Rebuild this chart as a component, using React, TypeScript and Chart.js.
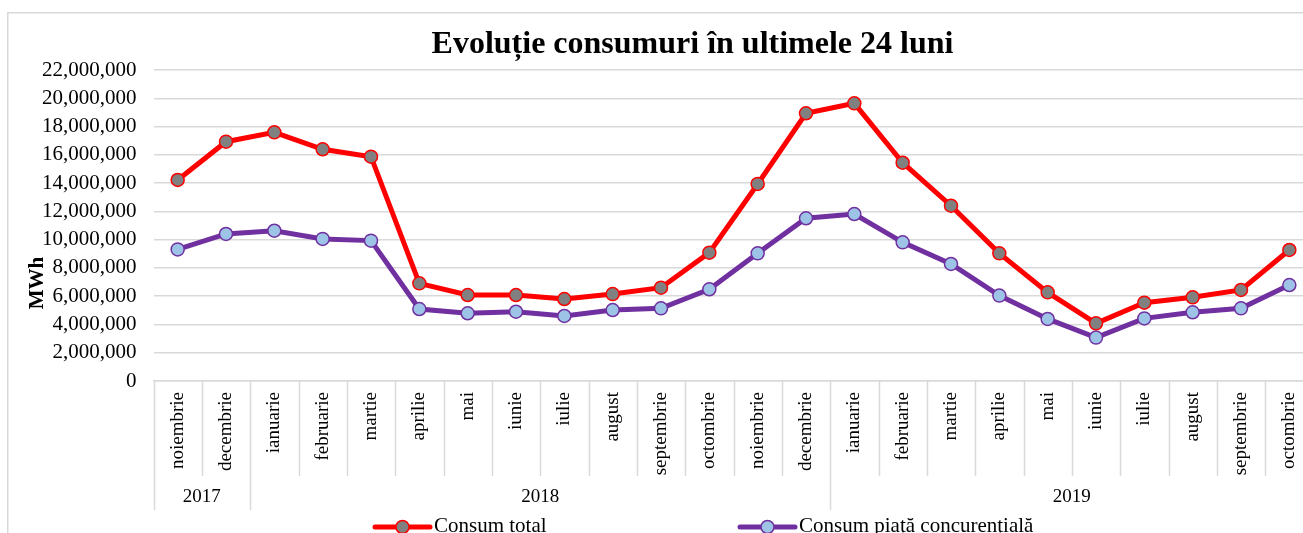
import { useEffect, useRef } from 'react';
import { Chart, registerables } from 'chart.js';

Chart.register(...registerables);

const months = [
  'noiembrie', 'decembrie',
  'ianuarie', 'februarie', 'martie', 'aprilie', 'mai', 'iunie', 'iulie', 'august', 'septembrie', 'octombrie', 'noiembrie', 'decembrie',
  'ianuarie', 'februarie', 'martie', 'aprilie', 'mai', 'iunie', 'iulie', 'august', 'septembrie', 'octombrie',
];
const yearLabels = ['2017', '2018', '2019'];
const yearSpans = [2, 12, 10];

const consumTotal = [
  14220000, 16930000, 17590000, 16390000, 15870000, 6910000, 6080000, 6080000, 5800000, 6150000, 6600000, 9080000,
  13940000, 18940000, 19640000, 15440000, 12400000, 9030000, 6270000, 4080000, 5540000, 5920000, 6440000, 9270000,
];
const consumPiata = [
  9310000, 10400000, 10630000, 10050000, 9930000, 5090000, 4790000, 4900000, 4600000, 5020000, 5140000, 6490000,
  9030000, 11510000, 11810000, 9810000, 8280000, 6040000, 4390000, 3070000, 4430000, 4860000, 5140000, 6790000,
];
const seriesNames = ['Consum total', 'Consum piață concurențială'];
const titleText = 'Evoluție consumuri în ultimele 24 luni';
const yAxisTitle = 'MWh';
const yMin = 0;
const yMax = 22000000;
const yStep = 2000000;

const SERIF = "'Liberation Serif', 'Times New Roman', serif";
const GRID = '#d9d9d9';
const RED = '#ff0000';
const RED_FILL = '#808080';
const PURPLE = '#7030a0';
const PURPLE_FILL = '#9dc3e6';

const styles = [
  { line: RED, fill: RED_FILL },
  { line: PURPLE, fill: PURPLE_FILL },
];

const decorPlugin = {
  id: 'excelDecor',
  beforeDraw(chart: any) {
    const ctx = chart.ctx;
    ctx.save();
    ctx.fillStyle = '#ffffff';
    ctx.fillRect(0, 0, chart.width, chart.height);
    ctx.strokeStyle = GRID;
    ctx.lineWidth = 1.5;
    ctx.strokeRect(0.75, 0.75, chart.width - 1.5, chart.height - 1.5);
    ctx.restore();
  },
  afterDraw(chart: any) {
    const { ctx, chartArea, scales } = chart;
    const xs = scales.x;
    const step = xs.getPixelForValue(1) - xs.getPixelForValue(0);
    const start = xs.getPixelForValue(0) - step / 2;
    const bottom = chartArea.bottom;

    ctx.save();
    // category separators
    const yearBounds = new Set<number>([0]);
    let acc = 0;
    yearSpans.forEach((s) => { acc += s; yearBounds.add(acc); });
    ctx.strokeStyle = GRID;
    ctx.lineWidth = 1.5;
    for (let b = 0; b <= months.length; b++) {
      const px = Math.round(start + b * step) + 0.5;
      const len = yearBounds.has(b) ? 129 : 95;
      ctx.beginPath();
      ctx.moveTo(px, bottom);
      ctx.lineTo(px, bottom + len);
      ctx.stroke();
    }

    // year labels
    ctx.fillStyle = '#000';
    ctx.font = `19px ${SERIF}`;
    ctx.textAlign = 'center';
    ctx.textBaseline = 'middle';
    let from = 0;
    yearSpans.forEach((s, i) => {
      const cx = start + (from + s / 2) * step;
      ctx.fillText(yearLabels[i], cx, bottom + 116.5);
      from += s;
    });

    // title
    ctx.font = `bold 32px ${SERIF}`;
    ctx.textAlign = 'center';
    ctx.textBaseline = 'alphabetic';
    ctx.fillText(titleText, chart.width / 2, 41);

    // y axis title
    ctx.save();
    ctx.translate(36, 271);
    ctx.rotate(-Math.PI / 2);
    ctx.font = `bold 21px ${SERIF}`;
    ctx.textAlign = 'center';
    ctx.textBaseline = 'alphabetic';
    ctx.fillText(yAxisTitle, 0, 0);
    ctx.restore();

    // legend
    const legendX = [368, 733];
    const ly = 515;
    chart.data.datasets.forEach((ds: any, i: number) => {
      const x0 = legendX[i];
      const st = styles[i];
      ctx.strokeStyle = st.line;
      ctx.lineWidth = 5;
      ctx.lineCap = 'round';
      ctx.beginPath();
      ctx.moveTo(x0, ly);
      ctx.lineTo(x0 + 55, ly);
      ctx.stroke();
      ctx.beginPath();
      ctx.arc(x0 + 27.5, ly, 6.5, 0, Math.PI * 2);
      ctx.fillStyle = st.fill;
      ctx.fill();
      ctx.lineWidth = 1.5;
      ctx.stroke();
      ctx.fillStyle = '#000';
      ctx.font = `21px ${SERIF}`;
      ctx.textAlign = 'left';
      ctx.textBaseline = 'alphabetic';
      ctx.fillText(ds.label, x0 + 59, 520);
    });
    ctx.restore();
  },
};

export default function App() {
  const ref = useRef<HTMLCanvasElement | null>(null);

  useEffect(() => {
    if (!ref.current) return;
    const chart = new Chart(ref.current, {
      type: 'line',
      data: {
        labels: months,
        datasets: [consumTotal, consumPiata].map((d, i) => ({
          label: seriesNames[i],
          data: d,
          borderColor: styles[i].line,
          backgroundColor: styles[i].fill,
          borderWidth: 5,
          pointRadius: 6.5,
          pointBorderWidth: 1.5,
          pointBackgroundColor: styles[i].fill,
          pointBorderColor: styles[i].line,
          tension: 0,
          fill: false,
        })),
      },
      options: {
        animation: false,
        responsive: true,
        maintainAspectRatio: false,
        layout: { padding: { top: 58, right: 64.5, bottom: 0, left: 0 } },
        plugins: {
          legend: { display: false },
          title: { display: false },
          tooltip: { enabled: false },
        },
        scales: {
          x: {
            type: 'category',
            offset: true,
            grid: { display: false, drawTicks: false },
            border: { display: true, color: GRID, width: 1.5 },
            ticks: {
              autoSkip: false,
              maxRotation: 90,
              minRotation: 90,
              padding: 11,
              color: '#000',
              font: { family: SERIF, size: 19 },
            },
            afterFit(scale: any) { scale.height = 176; },
          },
          y: {
            min: yMin,
            max: yMax,
            border: { display: false },
            grid: { color: GRID, lineWidth: 1.5, drawTicks: false },
            ticks: {
              stepSize: yStep,
              padding: 17,
              color: '#000',
              font: { family: SERIF, size: 21 },
              callback: (v: any) => Number(v).toLocaleString('en-US'),
            },
            afterFit(scale: any) { scale.width = 146.5; },
          },
        },
      },
      plugins: [decorPlugin],
    });
    return () => chart.destroy();
  }, []);

  return (
    <div style={{ position: 'absolute', left: 7, top: 12, width: 1296, height: 521, overflow: 'hidden' }}>
      <div style={{ position: 'relative', width: 1371, height: 545 }}>
        <canvas ref={ref} />
      </div>
    </div>
  );
}
